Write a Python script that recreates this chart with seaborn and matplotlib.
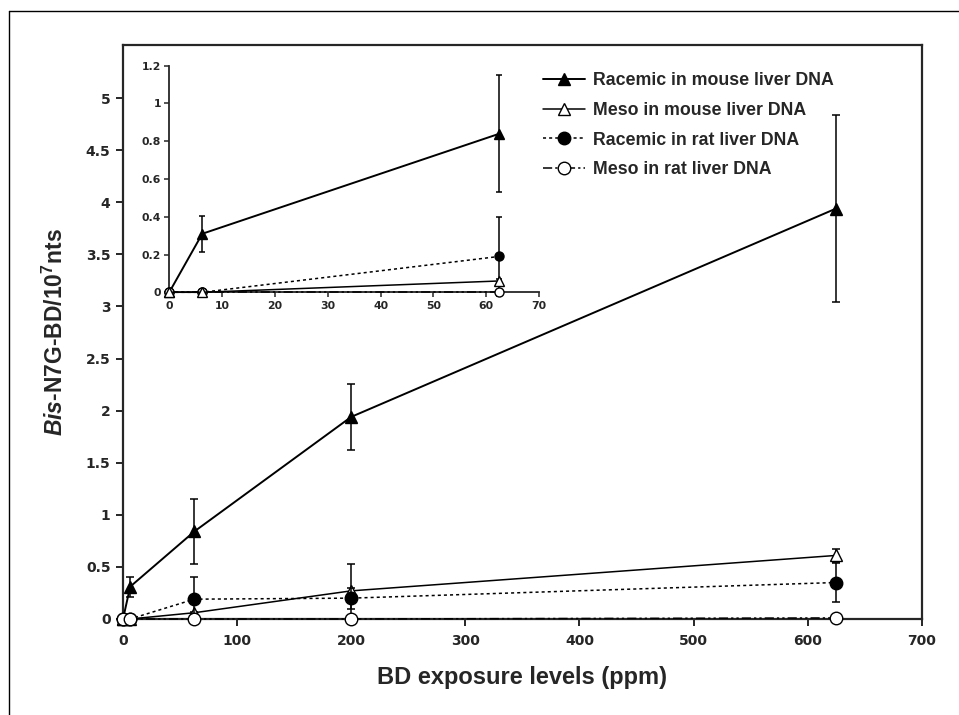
import pandas as pd
import matplotlib
matplotlib.use("Agg")
import matplotlib.pyplot as plt
import seaborn as sns
from matplotlib.ticker import FuncFormatter, MultipleLocator


# BD exposure (ppm) and bis-N7G-BD adducts per 10^7 nts
ppm = [0, 6.25, 62.5, 200, 625]

racemic_mouse = [0, 0.31, 0.84, 1.94, 3.94]
racemic_mouse_err = [0, 0.095, 0.31, 0.32, 0.90]
meso_mouse = [0, 0, 0.06, 0.27, 0.61]
meso_mouse_err = [0, 0, 0.01, 0.26, 0.06]
racemic_rat = [0, 0, 0.19, 0.20, 0.35]
racemic_rat_err = [0, 0, 0.21, 0.10, 0.19]
meso_rat = [0, 0, 0, 0, 0.01]
meso_rat_err = [0, 0, 0, 0, 0]

series_names = ["Racemic in mouse liver DNA", "Meso in mouse liver DNA",
                "Racemic in rat liver DNA", "Meso in rat liver DNA"]
series_values = [racemic_mouse, meso_mouse, racemic_rat, meso_rat]
series_errors = [racemic_mouse_err, meso_mouse_err, racemic_rat_err, meso_rat_err]

main_yticks = [0, 0.5, 1, 1.5, 2, 2.5, 3, 3.5, 4, 4.5, 5]
inset_yticks = [0, 0.2, 0.4, 0.6, 0.8, 1, 1.2]
inset_xticks = [0, 10, 20, 30, 40, 50, 60, 70]

# long table for seaborn
rows = []
for name, vals, errs in zip(series_names, series_values, series_errors):
    for x, y, e in zip(ppm, vals, errs):
        rows.append({"ppm": x, "adduct": y, "err": e, "series": name})
df = pd.DataFrame(rows)

styles = {
    "Racemic in mouse liver DNA": dict(linestyle="-", lw=1.4, marker="^", mfc="k"),
    "Meso in mouse liver DNA": dict(linestyle="-", lw=1.1, marker="^", mfc="w"),
    "Racemic in rat liver DNA": dict(linestyle=(0, (2, 2)), lw=1.1, marker="o", mfc="k"),
    "Meso in rat liver DNA": dict(linestyle=(0, (6, 2, 1.5, 2, 1.5, 2)), lw=1.1, marker="o", mfc="w"),
}

sns.set_style("ticks")
plt.rcParams["font.family"] = ["Liberation Sans", "DejaVu Sans"]
plt.rcParams["font.weight"] = "bold"
plt.rcParams["mathtext.fontset"] = "custom"
plt.rcParams["mathtext.rm"] = "Liberation Sans:bold"
plt.rcParams["mathtext.it"] = "Liberation Sans:italic:bold"
plt.rcParams["mathtext.bf"] = "Liberation Sans:bold"

# tick digits in the figure are wide, DejaVu bold matches them better
tick_font = ["DejaVu Sans"]


def draw_series(ax, data, ms, capsize, order, with_label):
    for name, z in zip(series_names, order):
        sub = data[data["series"] == name]
        st = styles[name]
        sns.lineplot(data=sub, x="ppm", y="adduct", ax=ax, color="k",
                     linestyle=st["linestyle"], linewidth=st["lw"],
                     marker=st["marker"], markersize=ms,
                     markerfacecolor=st["mfc"], markeredgecolor="k",
                     markeredgewidth=1.0, clip_on=False, zorder=z,
                     errorbar=None, label=name if with_label else None)
        e = sub[sub["err"] > 0]
        ax.errorbar(e["ppm"], e["adduct"], yerr=e["err"], fmt="none",
                    ecolor="k", elinewidth=1.1, capsize=capsize,
                    capthick=1.1, clip_on=False, zorder=z - 0.5)


def style_ticks(ax, size):
    for lab in ax.get_xticklabels() + ax.get_yticklabels():
        lab.set_fontweight("bold")
        lab.set_family(tick_font)
        lab.set_fontsize(size)


fig = plt.figure(figsize=(9.59, 7.15), dpi=100)

# outer frame of the figure panel
fig.add_artist(plt.Line2D([9 / 959, 9 / 959], [0, 1 - 11 / 715],
                          transform=fig.transFigure, color="k", lw=1.0))
fig.add_artist(plt.Line2D([9 / 959, 1], [1 - 11 / 715, 1 - 11 / 715],
                          transform=fig.transFigure, color="k", lw=1.0))

ax = fig.add_axes([0.1283, 0.1343, 0.8328, 0.8028])
draw_series(ax, df, 9, 3, [3, 4, 5, 6], True)
ax.set_xlim(0, 700)
ax.set_ylim(0, 5.51)
ax.xaxis.set_major_locator(MultipleLocator(100))
ax.set_yticks(main_yticks)
ax.yaxis.set_major_formatter(FuncFormatter(lambda v, p: f"{v:g}"))
for s in ax.spines.values():
    s.set_linewidth(1.6)
    s.set_visible(True)
ax.tick_params(direction="out", length=5, width=1.4, pad=4)
ax.tick_params(axis="x", pad=6)
style_ticks(ax, 10)
ax.set_xlabel("BD exposure levels (ppm)", fontsize=17, fontweight="bold", labelpad=13)
ax.set_ylabel(r"$\mathit{Bis}$-N7G-BD/10$^{7}$nts", fontsize=16.5,
              fontweight="bold", labelpad=13)

handles, labs = ax.get_legend_handles_labels()
ax.legend(handles, labs, loc="upper left", bbox_to_anchor=(0.5255, 0.953),
          frameon=False, borderpad=0, borderaxespad=0,
          handlelength=2.4, handletextpad=0.4, labelspacing=0.72,
          prop={"weight": "bold", "size": 12.8})

# inset with the low-exposure range
inset = fig.add_axes([0.1765, 0.5912, 0.3856, 0.3169])
inset.set_facecolor("none")
draw_series(inset, df[df["ppm"] <= 70], 6.5, 2.2, [3, 6, 4, 5], False)
inset.set_xlim(0, 70)
inset.set_ylim(0, 1.2)
inset.set_xticks(inset_xticks)
inset.set_yticks(inset_yticks)
inset.yaxis.set_major_formatter(FuncFormatter(lambda v, p: f"{v:g}"))
inset.xaxis.set_major_formatter(FuncFormatter(lambda v, p: f"{v:g}"))
sns.despine(ax=inset)
for s in ["left", "bottom"]:
    inset.spines[s].set_linewidth(1.3)
inset.tick_params(direction="out", length=3.5, width=1.1, pad=2.5)
style_ticks(inset, 7.8)
inset.set_xlabel("")
inset.set_ylabel("")

fig.savefig("out.png", dpi=100)
